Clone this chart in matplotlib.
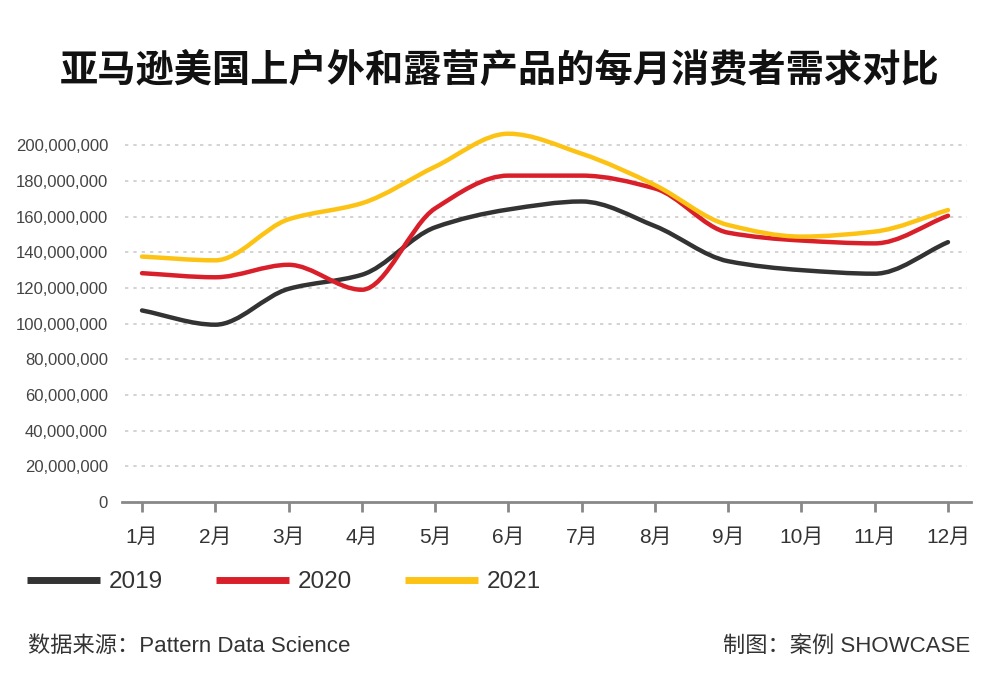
import matplotlib
matplotlib.use("Agg")
import matplotlib.pyplot as plt
import numpy as np
from matplotlib.path import Path
from matplotlib.patches import PathPatch
from matplotlib.lines import Line2D

plt.rcParams['font.family'] = ['Liberation Sans', 'Noto Sans CJK SC', 'DejaVu Sans']

months = ["1月", "2月", "3月", "4月", "5月", "6月", "7月", "8月", "9月", "10月", "11月", "12月"]
y2019 = [107.4, 99.4, 119.5, 127.4, 154.0, 164.0, 168.5, 154.7, 135.0, 130.0, 128.0, 145.7]
y2020 = [128.3, 126.0, 133.0, 119.0, 164.6, 183.0, 183.0, 175.8, 151.0, 146.6, 145.0, 160.5]
y2021 = [137.6, 135.5, 158.5, 167.5, 188.0, 206.5, 195.3, 177.7, 155.3, 148.8, 151.6, 163.7]
series_labels = ["2019", "2020", "2021"]
colors = ["#333333", "#d9202a", "#fcc314"]
yticks = list(range(0, 200_000_001, 20_000_000))


def smooth_path(xs, ys):
    xs = np.asarray(xs, float)
    ys = np.asarray(ys, float)
    n = len(xs)
    d = np.diff(ys) / np.diff(xs)
    m = np.zeros(n)
    m[0], m[-1] = d[0], d[-1]
    for i in range(1, n - 1):
        if d[i - 1] * d[i] <= 0:
            m[i] = 0.0
        else:
            m[i] = 2.0 / (1.0 / d[i - 1] + 1.0 / d[i])
    verts = [(xs[0], ys[0])]
    codes = [Path.MOVETO]
    for i in range(n - 1):
        h = xs[i + 1] - xs[i]
        verts += [(xs[i] + h / 3, ys[i] + m[i] * h / 3),
                  (xs[i + 1] - h / 3, ys[i + 1] - m[i + 1] * h / 3),
                  (xs[i + 1], ys[i + 1])]
        codes += [Path.CURVE4] * 3
    return Path(verts, codes)


fig = plt.figure(figsize=(10, 7), dpi=100)
fig.patch.set_facecolor("white")
ax = fig.add_axes([0.122, 0.2829, 0.849, 0.535])

x = np.arange(len(months))
for vals, c in zip([y2019, y2020, y2021], colors):
    yv = np.array(vals) * 1e6
    p = smooth_path(x, yv)
    ax.add_patch(PathPatch(p, facecolor="none", edgecolor=c, lw=3.2,
                           capstyle="round", joinstyle="round", zorder=3))

ax.set_xlim(-0.273, 11.314)
ax.set_ylim(0, 210e6)

ax.set_yticks(yticks)
ax.set_yticklabels([f"{v:,}" for v in yticks], fontsize=12, color="#444444")
ax.set_xticks(x)
ax.set_xticklabels(months, fontsize=15, color="#333333")

for v in yticks[1:]:
    ax.axhline(v, xmin=0.004, xmax=0.995, color="#cccccc", lw=1.2,
               ls=(0, (2, 3)), zorder=1)

for s in ["top", "right", "left"]:
    ax.spines[s].set_visible(False)
ax.spines["bottom"].set_color("#888888")
ax.spines["bottom"].set_linewidth(2)
ax.tick_params(axis="y", length=0, pad=10)
ax.tick_params(axis="x", length=7, width=2, color="#888888", pad=12, direction="out")

fig.text(0.5, 0.9, "亚马逊美国上户外和露营产品的每月消费者需求对比",
         ha="center", va="center", fontsize=27.5, fontweight="heavy",
         family=["Noto Sans CJK SC"], color="#111111")

handles = [Line2D([], [], color=c, lw=5, solid_capstyle="butt") for c in colors]
fig.legend(handles, series_labels, loc="center left", bbox_to_anchor=(0.005, 0.168),
           ncol=3, frameon=False, fontsize=17.5, handlelength=3.0, handletextpad=0.35,
           columnspacing=2.2, labelcolor="#333333")

fig.text(0.028, 0.076, "数据来源：Pattern Data Science", ha="left", va="center",
         fontsize=16, color="#333333")
fig.text(0.97, 0.076, "制图：案例 SHOWCASE", ha="right", va="center",
         fontsize=16, color="#333333")

fig.savefig("out.png", dpi=100, facecolor="white")
